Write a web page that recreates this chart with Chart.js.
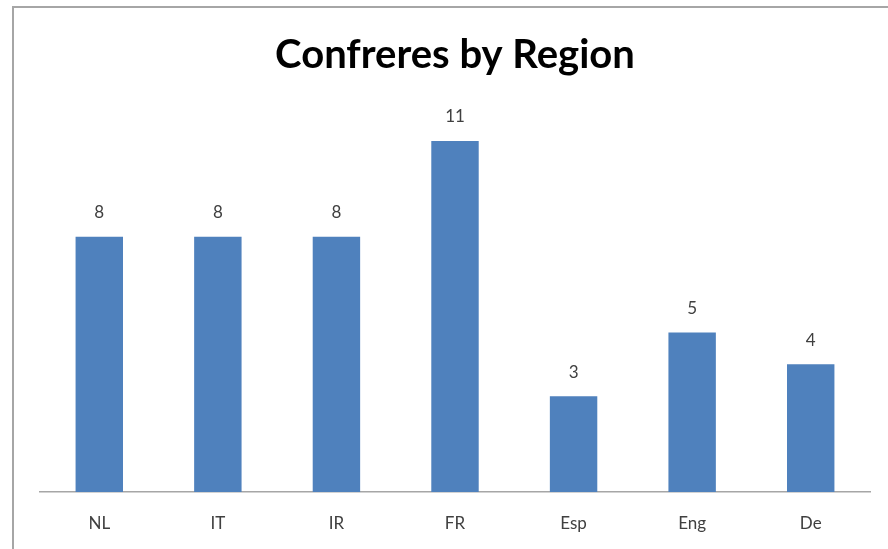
<!DOCTYPE html>
<html>
<head>
<meta charset="utf-8">
<script src="https://cdn.jsdelivr.net/npm/chart.js@4"></script>
<style>
  html, body { margin: 0; padding: 0; background: #fff; overflow: hidden; }
  #frame {
    position: absolute; left: 12px; top: 6px; width: 900px; height: 560px;
    border-left: 2px solid #a6a6a6; border-top: 2px solid #a6a6a6;
  }
  #wrap { position: absolute; left: 0; top: 0; width: 888px; height: 549px; }
</style>
</head>
<body>
<div id="frame"></div>
<div id="wrap"><canvas id="regionChart" width="888" height="549"></canvas></div>
<script>
const regions = ['NL', 'IT', 'IR', 'FR', 'Esp', 'Eng', 'De'];
const confreres = [8, 8, 8, 11, 3, 5, 4];
const fontFamily = "Lato, 'Open Sans', sans-serif";

// draws the value above each bar, the way the original sheet does
const valueLabels = {
  id: 'valueLabels',
  afterDatasetsDraw(chart) {
    const ctx = chart.ctx;
    const meta = chart.getDatasetMeta(0);
    ctx.save();
    ctx.font = '17px ' + fontFamily;
    ctx.fillStyle = '#404040';
    ctx.textAlign = 'center';
    ctx.textBaseline = 'middle';
    meta.data.forEach((bar, i) => {
      ctx.fillText(String(confreres[i]), bar.x, bar.y - 24);
    });
    ctx.restore();
  },
};

const ctx = document.getElementById('regionChart').getContext('2d');
const regionChart = new Chart(ctx, {
  type: 'bar',
  data: {
    labels: regions,
    datasets: [
      {
        label: 'Confreres',
        data: confreres,
        backgroundColor: '#4f81bd',
        borderWidth: 0,
        categoryPercentage: 1,
        barPercentage: 0.4,
      },
    ],
  },
  options: {
    responsive: false,
    animation: false,
    layout: { padding: { left: 40, right: 18, top: 26, bottom: 0 } },
    plugins: {
      legend: { display: false },
      tooltip: { enabled: false },
      title: {
        display: true,
        text: 'Confreres by Region',
        color: '#000',
        font: { family: fontFamily, size: 40, weight: 'bold' },
        padding: { top: 5, bottom: 30 },
      },
    },
    scales: {
      x: {
        grid: { display: false, drawTicks: false },
        border: { display: true, color: '#a6a6a6', width: 1.5 },
        ticks: {
          color: '#404040',
          font: { family: fontFamily, size: 17 },
          padding: 21,
        },
        afterFit(scale) {
          scale.height = 57;
        },
      },
      y: {
        display: false,
        min: 0,
        max: 12,
      },
    },
  },
  plugins: [valueLabels],
});
</script>
</body>
</html>
